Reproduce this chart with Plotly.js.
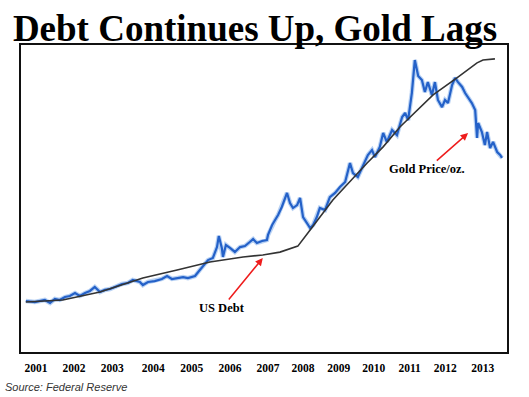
<!DOCTYPE html>
<html>
<head>
<meta charset="utf-8">
<script src="https://cdn.plot.ly/plotly-3.0.1.min.js"></script>
<style>html,body{margin:0;padding:0;background:#fff;}#chart{width:529px;height:397px;}</style>
</head>
<body>
<div id="chart"></div>
<script>
// Gold price ($/oz) (decimal year)
const goldYears = [2000.73,2000.97,2001.24,2001.38,2001.51,2001.64,2001.78,2001.91,2002.05,2002.18,2002.32,2002.45,2002.58,2002.72,2002.85,2002.99,2003.12,2003.31,2003.47,2003.60,2003.79,2003.87,2004.01,2004.19,2004.38,2004.52,2004.65,2004.81,2004.95,2005.08,2005.27,2005.40,2005.48,2005.62,2005.75,2005.86,2005.91,2005.99,2006.02,2006.10,2006.21,2006.34,2006.48,2006.61,2006.74,2006.83,2006.93,2007.07,2007.20,2007.23,2007.34,2007.42,2007.50,2007.60,2007.66,2007.74,2007.82,2007.90,2008.01,2008.09,2008.17,2008.28,2008.36,2008.44,2008.54,2008.62,2008.76,2008.89,2009.03,2009.16,2009.30,2009.43,2009.51,2009.64,2009.78,2009.91,2010.02,2010.10,2010.23,2010.32,2010.42,2010.56,2010.69,2010.83,2010.91,2010.99,2011.09,2011.17,2011.26,2011.36,2011.44,2011.52,2011.63,2011.71,2011.79,2011.90,2011.98,2012.06,2012.17,2012.25,2012.33,2012.44,2012.52,2012.60,2012.70,2012.79,2012.84,2012.87,2012.97,2013.05,2013.11,2013.19,2013.27,2013.38,2013.46,2013.51];
const goldPrice = [265,258,272,252,279,272,292,299,319,299,319,333,360,326,340,346,360,380,387,407,394,373,394,400,414,434,414,421,427,420,434,475,502,542,556,630,705,624,563,644,624,597,630,637,664,684,657,671,678,712,779,813,847,901,948,996,928,894,914,962,833,793,759,779,833,894,880,968,996,1036,1070,1199,1131,1104,1185,1253,1286,1239,1307,1402,1341,1422,1388,1510,1537,1489,1672,1895,1787,1760,1679,1746,1658,1746,1625,1577,1625,1604,1726,1774,1746,1713,1672,1645,1604,1557,1368,1469,1408,1320,1408,1300,1341,1273,1253,1233];

// US federal debt ($ trillions)
const debtYears = [2000.73,2001.72,2002.72,2003.87,2004.79,2005.67,2006.56,2007.09,2007.55,2008.03,2008.36,2008.97,2009.89,2010.32,2010.77,2011.66,2012.30,2012.84,2013.00,2013.32];
const debtTrillions = [5.70,5.79,6.15,6.79,7.15,7.51,7.74,7.83,7.96,8.23,8.96,10.32,11.99,12.72,13.62,15.07,15.84,16.52,16.65,16.70];

// Tick labels
const tickLabels = ['2001','2002','2003','2004','2005','2006','2007','2008','2009','2010','2011','2012','2013'];
const tickPositions = [2001.0,2002.02,2003.05,2004.15,2005.18,2006.21,2007.23,2008.17,2009.13,2010.07,2011.03,2011.99,2012.99];

const serif = '"Liberation Serif", "Times New Roman", serif';

const traces = [
  {x: goldYears, y: goldPrice, type: 'scatter', mode: 'lines', name: 'Gold Price/oz.',
   line: {color: 'rgba(100,155,230,0.45)', width: 4.5}, hoverinfo: 'skip', showlegend: false},
  {x: goldYears, y: goldPrice, type: 'scatter', mode: 'lines', name: 'Gold Price/oz.',
   line: {color: '#2461c8', width: 2.2}, showlegend: false},
  {x: debtYears, y: debtTrillions, type: 'scatter', mode: 'lines', name: 'US Debt', yaxis: 'y2',
   line: {color: '#333333', width: 1.6}, showlegend: false}
];

const layout = {
  width: 529, height: 397,
  paper_bgcolor: '#ffffff', plot_bgcolor: '#ffffff',
  margin: {l: 21, r: 22, t: 45, b: 45, pad: 0},
  showlegend: false,
  title: {
    text: '<b>Debt Continues Up, Gold Lags</b>',
    font: {family: serif, size: 37, color: '#000'},
    x: 0.482, xref: 'container', xanchor: 'center',
    y: 0.93, yref: 'container', yanchor: 'middle'
  },
  xaxis: {
    range: [2000.6, 2013.644], showgrid: false, zeroline: false,
    showline: true, mirror: true, linecolor: '#111', linewidth: 2,
    tickmode: 'array', tickvals: tickPositions, ticktext: tickLabels,
    ticks: 'outside', ticklen: 4, tickcolor: 'rgba(0,0,0,0)',
    tickfont: {family: serif, size: 11.5, color: '#000', weight: 'bold'}
  },
  yaxis: {
    range: [-80, 1997], showgrid: false, zeroline: false, showticklabels: false, ticks: '',
    showline: true, mirror: true, linecolor: '#111', linewidth: 2
  },
  yaxis2: {
    range: [3.44, 17.33], overlaying: 'y', side: 'right', visible: false,
    showgrid: false, zeroline: false
  },
  annotations: [
    {x: 2007.09, y: 556, xref: 'x', yref: 'y', text: '<b>US Debt</b>',
     showarrow: true, ax: -41, ay: 50, arrowcolor: '#ee1c1c', arrowwidth: 1.5, arrowhead: 2, arrowsize: 1,
     font: {family: serif, size: 12.5, color: '#000'}},
    {x: 2012.60, y: 1401, xref: 'x', yref: 'y', text: '<b>Gold Price/oz.</b>',
     showarrow: true, ax: -41, ay: 36, arrowcolor: '#ee1c1c', arrowwidth: 1.5, arrowhead: 2, arrowsize: 1,
     font: {family: serif, size: 12.5, color: '#000'}},
    {x: -0.037, y: -0.114, xref: 'paper', yref: 'paper', xanchor: 'left', yanchor: 'middle',
     text: '<i>Source: Federal Reserve</i>', showarrow: false,
     font: {family: '"Liberation Sans", Arial, sans-serif', size: 11, color: '#333'}}
  ]
};

Plotly.newPlot('chart', traces, layout, {displayModeBar: false, staticPlot: true});
</script>
</body>
</html>
